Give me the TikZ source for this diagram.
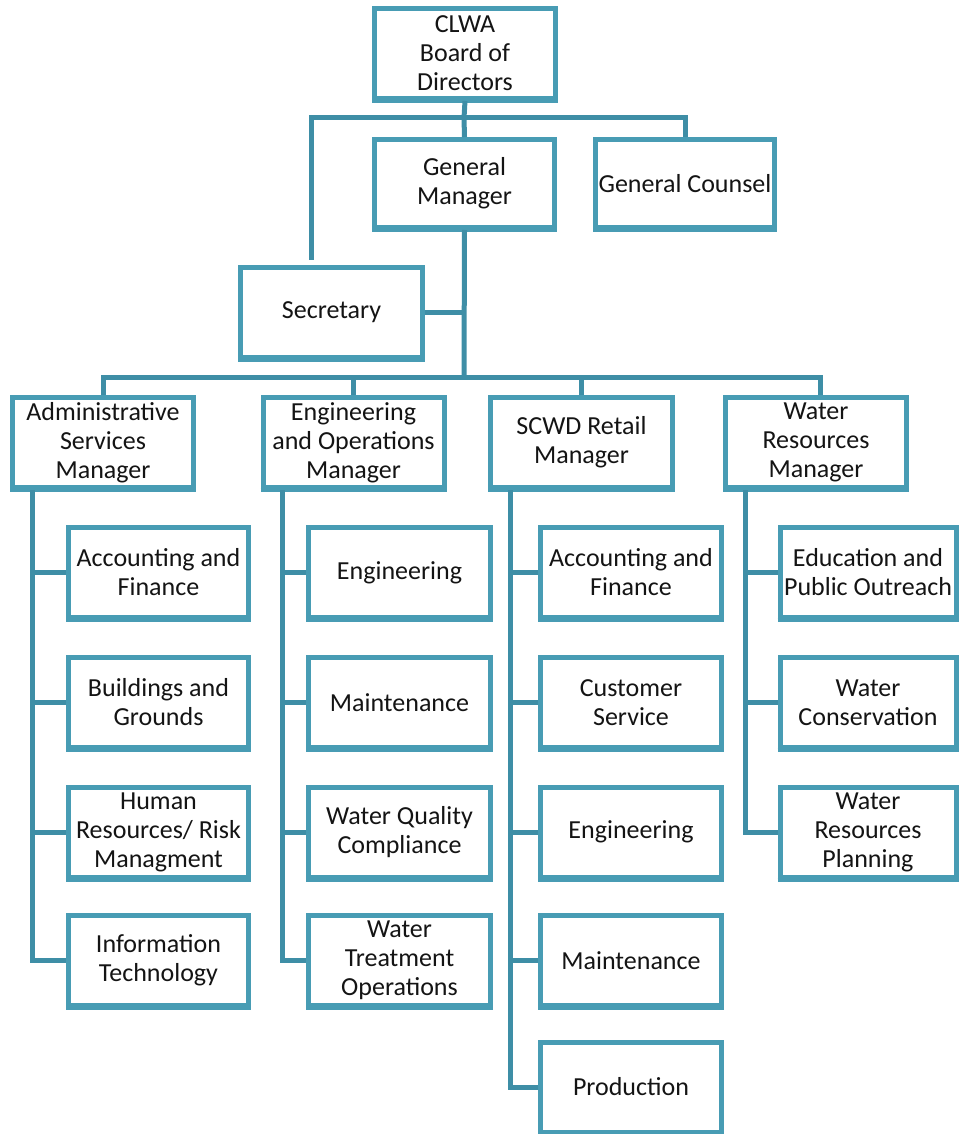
\documentclass[tikz,border=0pt]{standalone}
\usepackage{fontspec}
\setmainfont{Carlito}
\definecolor{boxc}{RGB}{72,156,180}
\definecolor{linec}{RGB}{62,142,166}
\definecolor{txt}{RGB}{20,20,20}
\begin{document}
\begin{tikzpicture}[x=1pt,y=-1pt,
  box/.style={draw=boxc, line width=5pt, fill=white, inner sep=0pt, align=center,
    text=txt, font=\fontsize{26}{29}\selectfont},
  conn/.style={draw=linec, line width=5pt},
  shade/.style={draw=boxc, line width=4pt},
]
\useasboundingbox (0,0) rectangle (960,1134);
% top
\node[box, minimum width=181, minimum height=90] (clwa) at (465,53.5) {CLWA\\Board of\\Directors};
\node[box, minimum width=180, minimum height=88] (gm) at (464.5,183.5) {General\\Manager};
\node[box, minimum width=179, minimum height=88] (gc) at (685,183.5) {General Counsel};
\node[box, minimum width=182, minimum height=90] (sec) at (331.5,312.5) {Secretary};
% managers
\node[box, minimum width=181, minimum height=90] (m1) at (103,442.5) {Administrative\\Services\\Manager};
\node[box, minimum width=181, minimum height=90] (m2) at (353.5,442.5) {Engineering\\and Operations\\Manager};
\node[box, minimum width=182, minimum height=90] (m3) at (581.5,442.5) {SCWD Retail\\Manager};
\node[box, minimum width=181, minimum height=90] (m4) at (816,442.5) {Water\\Resources\\Manager};
% column 1
\node[box, minimum width=180, minimum height=90] (c11) at (158.5,572.5) {Accounting and\\Finance};
\node[box, minimum width=180, minimum height=90] (c12) at (158.5,702.5) {Buildings and\\Grounds};
\node[box, minimum width=180, minimum height=90] (c13) at (158.5,832) {Human\\Resources/ Risk\\Managment};
\node[box, minimum width=180, minimum height=90] (c14) at (158.5,960.5) {Information\\Technology};
% column 2
\node[box, minimum width=182, minimum height=90] (c21) at (399.5,572.5) {Engineering};
\node[box, minimum width=182, minimum height=90] (c22) at (399.5,702.5) {Maintenance};
\node[box, minimum width=182, minimum height=90] (c23) at (399.5,832) {Water Quality\\Compliance};
\node[box, minimum width=182, minimum height=90] (c24) at (399.5,960.5) {Water\\Treatment\\Operations};
% column 3
\node[box, minimum width=181, minimum height=90] (c31) at (631,572.5) {Accounting and\\Finance};
\node[box, minimum width=181, minimum height=90] (c32) at (631,702.5) {Customer\\Service};
\node[box, minimum width=181, minimum height=90] (c33) at (631,832) {Engineering};
\node[box, minimum width=181, minimum height=90] (c34) at (631,960.5) {Maintenance};
\node[box, minimum width=181, minimum height=90] (c35) at (631,1087) {Production};
% column 4
\node[box, minimum width=176, minimum height=90] (c41) at (868,572.5) {Education and\\Public Outreach};
\node[box, minimum width=176, minimum height=90] (c42) at (868,702.5) {Water\\Conservation};
\node[box, minimum width=176, minimum height=90] (c43) at (868,832) {Water\\Resources\\Planning};
% thicker bottom edges
\foreach \n in {clwa,gm,gc,sec,m1,m2,m3,m4,c11,c12,c13,c14,c21,c22,c23,c24,c31,c32,c33,c34,c35,c41,c42,c43}
  \path[shade] (\n.south west) -- (\n.south east);
% junctions
\coordinate (j1) at (464,118);
\coordinate (j2) at (464,377);
\coordinate (sectop) at (311,260);
\coordinate (a1) at ([xshift=22]m1.south west);
\coordinate (a2) at ([xshift=22]m2.south west);
\coordinate (a3) at ([xshift=22]m3.south west);
\coordinate (a4) at ([xshift=22]m4.south west);
% connectors
\path[conn] (clwa.south) -- (j1);
\path[conn] (j1) -| (sectop);
\path[conn] (j1) -| (gc.north);
\path[conn] (j1) -- (gm.north);
\path[conn] (gm.south) -- (j2);
\path[conn] (sec.east) -- (sec.east -| j2);
\path[conn] (m1.north) |- (j2) -| ([xshift=4]m4.north);
\path[conn] (j2) -| (m2.north);
\path[conn] (j2) -| (m3.north);
\path[conn] (a1) |- (c14.west);
\path[conn] (a2) |- (c24.west);
\path[conn] (a3) |- (c35.west);
\path[conn] (a4) |- (c43.west);
\foreach \c/\a in {c11/a1,c12/a1,c13/a1,c21/a2,c22/a2,c23/a2,c31/a3,c32/a3,c33/a3,c34/a3,c41/a4,c42/a4}
  \path[conn] (\c.west) -- (\c.west -| \a);
\end{tikzpicture}
\end{document}
